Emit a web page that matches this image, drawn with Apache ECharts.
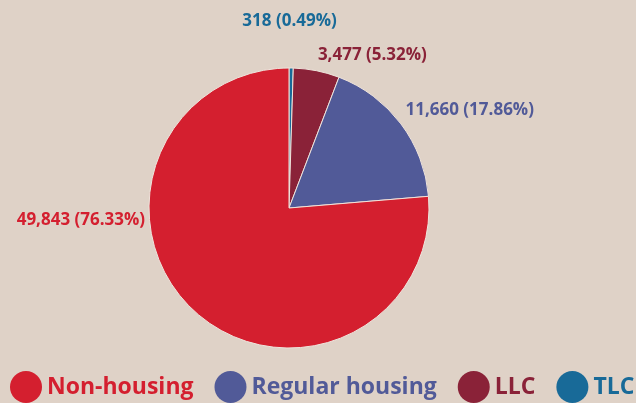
<!DOCTYPE html>
<html><head><meta charset="utf-8">
<script src="https://cdn.jsdelivr.net/npm/echarts@6/dist/echarts.min.js"></script>
<style>html,body{margin:0;padding:0;background:#DFD2C7;}#c{width:636px;height:403px;}</style>
</head><body><div id="c"></div>
<script>
// Data (clockwise from 12 o'clock)
const categories = ["TLC", "LLC", "Regular housing", "Non-housing"];
const values = [318, 3477, 11660, 49843];
const legendOrder = ["Non-housing", "Regular housing", "LLC", "TLC"];

const colors = {"TLC": "#186A98", "LLC": "#8A2238", "Regular housing": "#515A98", "Non-housing": "#D41F2F"};
const labelShift = {"TLC": [-54, -35], "LLC": [-6, -4], "Regular housing": [-10, -7], "Non-housing": [-36, -100]};

const chart = echarts.init(document.getElementById('c'), null, {renderer: 'canvas'});
const fontFamily = '"Open Sans", Lato, sans-serif';
chart.setOption({
  backgroundColor: '#DFD2C7',
  animation: false,
  legend: {
    left: 10, top: 371, padding: 0,
    icon: 'circle', itemWidth: 32, itemHeight: 32, itemGap: 21,
    itemStyle: {borderWidth: 0},
    textStyle: {fontFamily, fontWeight: 'bold', fontSize: 23, padding: [0, 0, 0, 0]},
    data: legendOrder.map(n => ({name: n, textStyle: {color: colors[n]}}))
  },
  series: [{
    type: 'pie',
    center: [289, 208],
    radius: 140,
    startAngle: 90,
    clockwise: true,
    avoidLabelOverlap: false,
    itemStyle: {borderColor: '#EFE4DC', borderWidth: 1},
    label: {
      position: 'outside',
      fontFamily, fontWeight: 'bold', fontSize: 17,
      formatter: p => p.value.toLocaleString('en-US') + ' (' + p.percent.toFixed(2) + '%)'
    },
    labelLine: {show: false, length: 12, length2: 0},
    labelLayout: p => {
      const s = labelShift[categories[p.dataIndex]];
      return {dx: s[0], dy: s[1]};
    },
    data: categories.map((n, i) => ({
      name: n, value: values[i],
      itemStyle: {color: colors[n]},
      label: {color: colors[n]}
    }))
  }]
});
</script>
</body></html>
